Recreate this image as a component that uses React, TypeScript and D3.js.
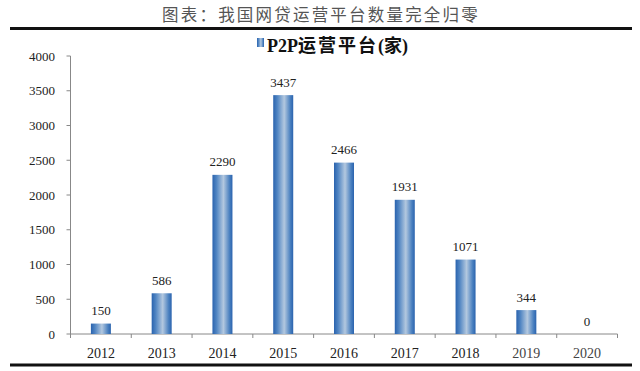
import React from "react";
import * as d3 from "d3";

const years = ["2012", "2013", "2014", "2015", "2016", "2017", "2018", "2019", "2020"];
const platforms = [150, 586, 2290, 3437, 2466, 1931, 1071, 344, 0];
const yTicks = [0, 500, 1000, 1500, 2000, 2500, 3000, 3500, 4000];
const titleText = "图表：我国网贷运营平台数量完全归零";

export default function App() {
  const W = 640;
  const H = 371;
  const x0 = 70.5;
  const x1 = 617.5;
  const yTop = 56;
  const yBot = 334;
  const x = d3.scaleBand<string>().domain(years).range([x0, x1]).paddingInner(0).paddingOuter(0);
  const y = d3.scaleLinear().domain([0, 4000]).range([yBot, yTop]);
  const barW = 20;
  const serif = "'Liberation Serif', 'Times New Roman', serif";
  const cjk = "'Noto Sans CJK SC', sans-serif";

  return (
    <svg
      width={W}
      height={H}
      style={{ position: "absolute", left: 0, top: 0, background: "#fff" }}
    >
      <defs>
        <linearGradient id="barGrad" x1="0" x2="1" y1="0" y2="0">
          <stop offset="0%" stopColor="#2a63ae" />
          <stop offset="20%" stopColor="#4f84c2" />
          <stop offset="55%" stopColor="#b3c8df" />
          <stop offset="85%" stopColor="#4b81c0" />
          <stop offset="100%" stopColor="#2a63ae" />
        </linearGradient>
      </defs>

      {/* title */}
      <text
        x={W / 2 + 1}
        y={21}
        textAnchor="middle"
        fontFamily={cjk}
        fontSize={16.5}
        letterSpacing={2.2}
        fill="#555"
      >
        {titleText}
      </text>
      <line x1={10} x2={632} y1={28.5} y2={28.5} stroke="#111" strokeWidth={3} />
      <line x1={10} x2={632} y1={365} y2={365} stroke="#111" strokeWidth={3} />

      {/* legend */}
      <rect x={257} y={38} width={7} height={9} fill="url(#barGrad)" />
      <text
        x={267}
        y={51.5}
        fontFamily={serif}
        fontWeight="bold"
        fontSize={18}
        fill="#111"
      >
        P2P
        <tspan fontFamily={cjk} fontWeight="bold" letterSpacing={2}>运营平台</tspan>
        (<tspan fontFamily={cjk} fontWeight="bold">家</tspan>)
      </text>

      {/* y axis */}
      <line x1={x0} x2={x0} y1={yTop} y2={yBot} stroke="#888" strokeWidth={1} />
      {yTicks.map((t) => (
        <g key={t}>
          <line x1={x0 - 4} x2={x0} y1={y(t)} y2={y(t)} stroke="#888" />
          <text
            x={55}
            y={y(t) + 4.5}
            textAnchor="end"
            fontFamily={serif}
            fontSize={13}
            fill="#222"
          >
            {t}
          </text>
        </g>
      ))}

      {/* x axis */}
      <line x1={x0} x2={x1} y1={yBot} y2={yBot} stroke="#888" strokeWidth={1} />
      {years.map((yr) => (
        <line
          key={"t" + yr}
          x1={x(yr) as number}
          x2={x(yr) as number}
          y1={yBot}
          y2={yBot + 4}
          stroke="#888"
        />
      ))}
      <line x1={x1} x2={x1} y1={yBot} y2={yBot + 4} stroke="#888" />

      {/* bars */}
      {years.map((yr, i) => {
        const cx = (x(yr) as number) + x.bandwidth() / 2;
        const v = platforms[i];
        return (
          <g key={yr}>
            {v > 0 && (
              <rect
                x={cx - barW / 2}
                y={y(v)}
                width={barW}
                height={yBot - y(v)}
                fill="url(#barGrad)"
              />
            )}
            <text
              x={cx}
              y={y(v) - 8.5}
              textAnchor="middle"
              fontFamily={serif}
              fontSize={13}
              fill="#222"
            >
              {v}
            </text>
            <text
              x={cx}
              y={358}
              textAnchor="middle"
              fontFamily={serif}
              fontSize={14}
              fill={i >= 7 ? "#444" : "#222"}
            >
              {yr}
            </text>
          </g>
        );
      })}
    </svg>
  );
}
